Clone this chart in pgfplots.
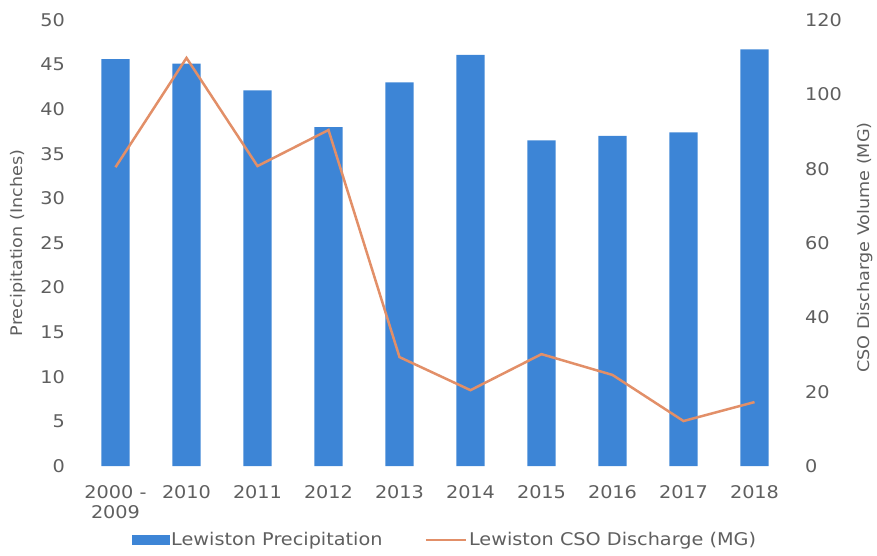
\documentclass[border=0pt]{standalone}
\usepackage{fontspec}
\setmainfont{DejaVu Sans}[FakeStretch=1.1]
\usepackage{pgfplots}
\pgfplotsset{compat=1.18}
\definecolor{barblue}{RGB}{61,133,214}
\definecolor{lineor}{RGB}{226,143,104}
\definecolor{txt}{RGB}{95,95,95}
\begin{document}
\fontsize{18}{21}\selectfont
\begin{tikzpicture}
\path[use as bounding box] (0pt,0pt) rectangle (877pt,555pt);
\begin{axis}[
  at={(80pt,89pt)}, anchor=south west,
  scale only axis, width=710pt, height=446pt,
  xmin=-0.5, xmax=9.5, ymin=0, ymax=50,
  ytick={0,5,...,50},
  xtick={0,...,9},
  xticklabels={{2000 -\\2009},2010,2011,2012,2013,2014,2015,2016,2017,2018},
  xticklabel style={align=center, anchor=north, yshift=-13pt, font=\fontsize{17.5}{20}\selectfont, text=txt},
  yticklabel style={anchor=east, xshift=-9pt, font=\fontsize{17.5}{20}\selectfont, text=txt},
  axis line style={draw=none},
  major tick length=0pt,
  /pgf/number format/assume math mode=true,
  ylabel={Precipitation (Inches)},
  every axis y label/.style={at={(axis description cs:-0.0873,0.5)}, rotate=90, anchor=center,
    font=\fontsize{16}{19}\selectfont, text=txt},
]
\addplot[ybar, bar width=0.4, fill=barblue, draw=none] coordinates {
  (0,45.6) (1,45.1) (2,42.1) (3,38.0) (4,43.0) (5,46.1) (6,36.5) (7,37.0) (8,37.4) (9,46.7)
};
\end{axis}
\begin{axis}[
  at={(80pt,89pt)}, anchor=south west,
  scale only axis, width=710pt, height=446pt,
  xmin=-0.5, xmax=9.5, ymin=0, ymax=120,
  ytick={0,20,...,120},
  axis x line=none,
  axis y line*=right,
  axis line style={draw=none},
  major tick length=0pt,
  yticklabel style={anchor=west, xshift=9pt, font=\fontsize{17.5}{20}\selectfont, text=txt},
  /pgf/number format/assume math mode=true,
  ylabel={CSO Discharge Volume (MG)},
  every axis y label/.style={at={(axis description cs:1.1056,0.49)}, rotate=90, anchor=center,
    font=\fontsize{16}{19}\selectfont, text=txt},
  legend style={at={(axis description cs:0.514,-0.166)}, anchor=center, draw=none, fill=none,
    legend columns=2, font=\fontsize{17.5}{20}\selectfont, text=txt,
    /tikz/every even column/.append style={column sep=40pt},
    nodes={inner sep=2pt}},
]
\addlegendimage{legend image code/.code={\fill[barblue] (0pt,-4.5pt) rectangle (37pt,4.5pt);}}
\addlegendentry{Lewiston Precipitation}
\addplot[lineor, line width=2.5pt, mark=none,
  legend image code/.code={\draw[lineor, line width=2.5pt] (0pt,0pt) -- (40pt,0pt);}] coordinates {
  (0,80.4) (1,109.8) (2,80.7) (3,90.4) (4,29.3) (5,20.4) (6,30.1) (7,24.5) (8,12.1) (9,17.2)
};
\addlegendentry{Lewiston CSO Discharge (MG)}
\end{axis}
\end{tikzpicture}
\end{document}
